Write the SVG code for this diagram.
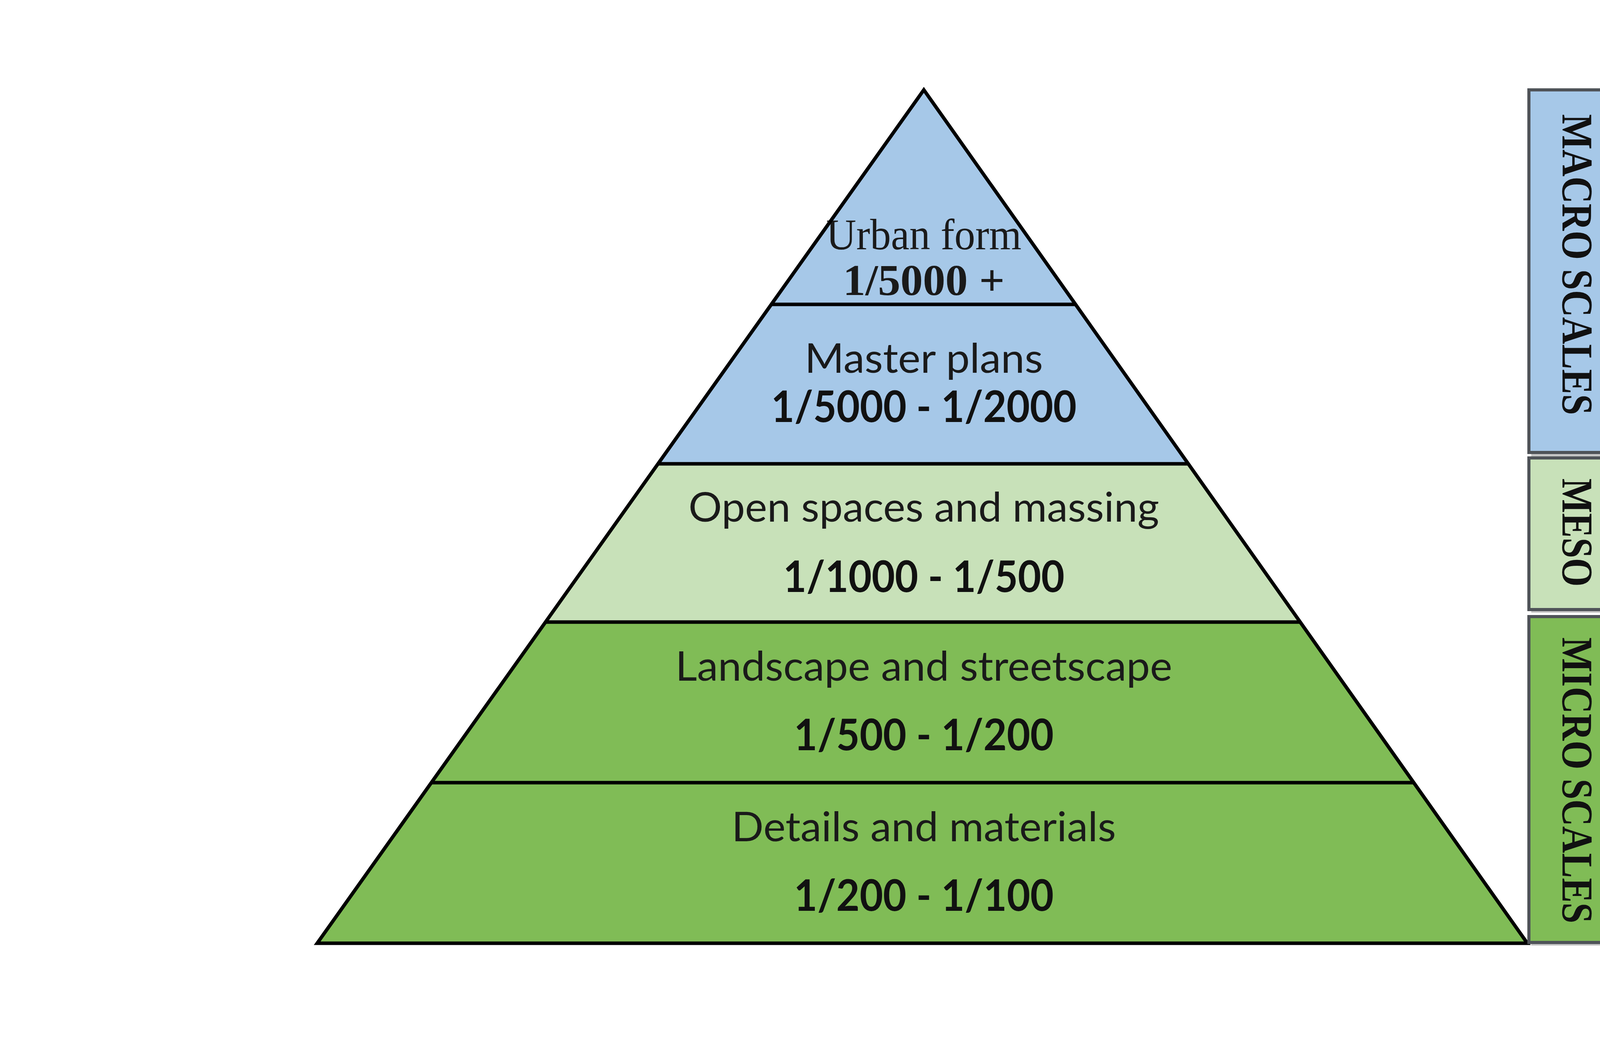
<svg xmlns="http://www.w3.org/2000/svg" width="4800" height="2700" viewBox="0 0 4800 2700">
<style>
.blue{fill:#a6c8e8}
.lgreen{fill:#c8e1b9}
.green{fill:#80bc56}
.edge{fill:none;stroke:#000;stroke-width:9;stroke-linejoin:miter}
.lbl{font-family:Lato,"Open Sans","Liberation Sans",sans-serif;font-size:104px;fill:#1a1a1a;text-anchor:middle}
.num{font-family:Lato,"Open Sans","Liberation Sans",sans-serif;font-size:112px;font-weight:bold;fill:#111;text-anchor:middle}
.ser{font-family:"Liberation Serif","Times New Roman",serif;font-size:112px;fill:#1a1a1a;text-anchor:middle}
.side{font-family:"Liberation Serif","Times New Roman",serif;font-size:112px;font-weight:bold;fill:#111;text-anchor:middle}
.box{stroke:#4f5358;stroke-width:8}
.shadow{fill:#c4c4c4}
</style>
<rect width="4800" height="2700" fill="#fff"/>
<g id="urban-form">
<polygon class="blue" points="2365,230 2753.4,779 1974.6,779"/>
<text class="ser" x="2365" y="638" textLength="500" lengthAdjust="spacingAndGlyphs">Urban form</text>
<text class="ser" x="2365" y="755" font-weight="bold" textLength="414" lengthAdjust="spacingAndGlyphs">1/5000 +</text>
</g>
<g id="master-plans">
<polygon class="blue" points="1974.6,779 2753.4,779 3042,1187 1684.5,1187"/>
<text class="lbl" x="2365" y="954" textLength="610" lengthAdjust="spacingAndGlyphs">Master plans</text>
<text class="num" x="2365" y="1080" textLength="782" lengthAdjust="spacingAndGlyphs">1/5000 - 1/2000</text>
</g>
<g id="open-spaces">
<polygon class="lgreen" points="1684.5,1187 3042,1187 3328.5,1592 1396.5,1592"/>
<text class="lbl" x="2365" y="1335" textLength="1205" lengthAdjust="spacingAndGlyphs">Open spaces and massing</text>
<text class="num" x="2365" y="1515" textLength="720" lengthAdjust="spacingAndGlyphs">1/1000 - 1/500</text>
</g>
<g id="landscape">
<polygon class="green" points="1396.5,1592 3328.5,1592 3619.2,2003 1104.2,2003"/>
<text class="lbl" x="2365" y="1742" textLength="1272" lengthAdjust="spacingAndGlyphs">Landscape and streetscape</text>
<text class="num" x="2365" y="1920" textLength="665" lengthAdjust="spacingAndGlyphs">1/500 - 1/200</text>
</g>
<g id="details">
<polygon class="green" points="1104.2,2003 3619.2,2003 3910,2414 812,2414"/>
<text class="lbl" x="2365" y="2153" textLength="984" lengthAdjust="spacingAndGlyphs">Details and materials</text>
<text class="num" x="2365" y="2331" textLength="665" lengthAdjust="spacingAndGlyphs">1/200 - 1/100</text>
</g>
<g id="pyramid-outline">
<polygon class="edge" points="2365,230 3910,2414 812,2414"/>
<line class="edge" x1="1974.6" y1="779" x2="2753.4" y2="779"/>
<line class="edge" x1="1684.5" y1="1187" x2="3042" y2="1187"/>
<line class="edge" x1="1396.5" y1="1592" x2="3328.5" y2="1592"/>
<line class="edge" x1="1104.2" y1="2003" x2="3619.2" y2="2003"/>
</g>
<g id="macro-scales">
<rect class="shadow" x="3920" y="238" width="252" height="930"/>
<rect class="blue box" x="3914" y="230" width="248" height="928"/>
<text class="side" transform="translate(4000,677) rotate(90)" textLength="770" lengthAdjust="spacingAndGlyphs">MACRO SCALES</text>
</g>
<g id="meso">
<rect class="shadow" x="3920" y="1178" width="252" height="390"/>
<rect class="lgreen box" x="3914" y="1172" width="248" height="388"/>
<text class="side" transform="translate(4000,1363) rotate(90)" textLength="277" lengthAdjust="spacingAndGlyphs">MESO</text>
</g>
<g id="micro-scales">
<rect class="shadow" x="3920" y="1584" width="252" height="836"/>
<rect class="green box" x="3914" y="1578" width="248" height="834"/>
<text class="side" transform="translate(4000,1997) rotate(90)" textLength="732" lengthAdjust="spacingAndGlyphs">MICRO SCALES</text>
</g>
</svg>
